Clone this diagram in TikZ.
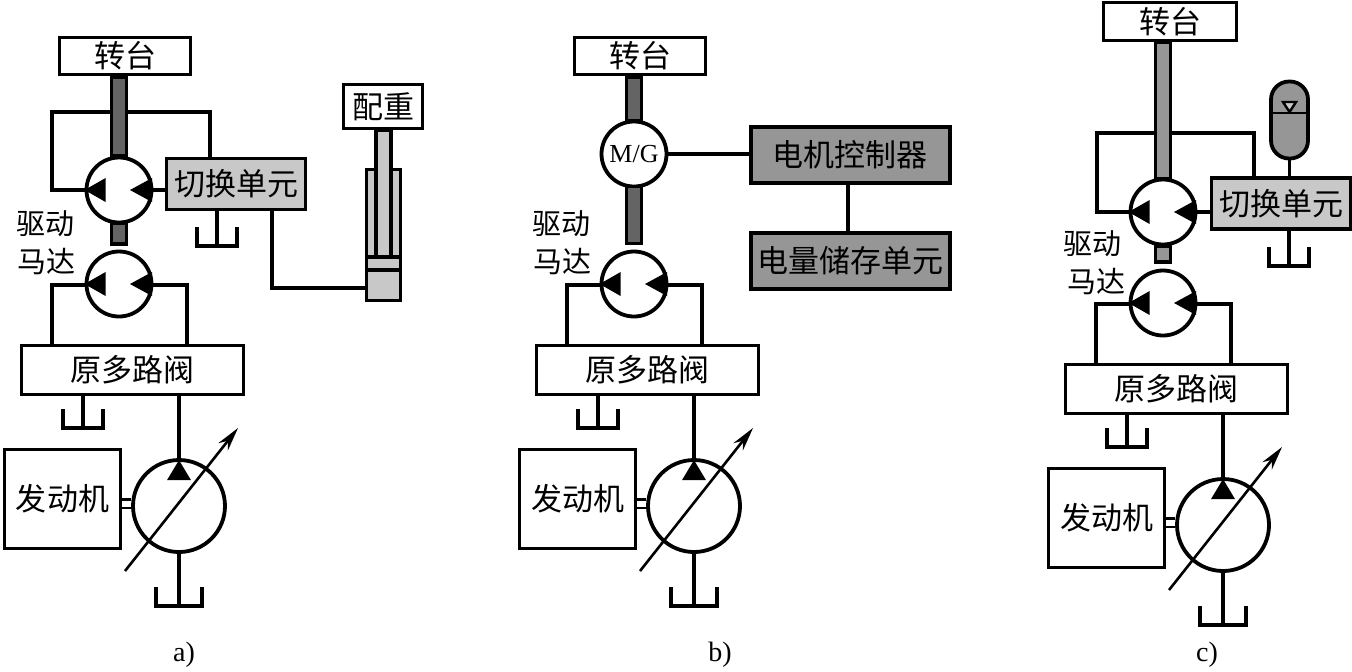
\documentclass[tikz,border=0pt]{standalone}
\usepackage{fontspec}
\setmainfont{Liberation Serif}
\newfontfamily\cjk{Noto Sans CJK SC}
\usetikzlibrary{arrows.meta}
\definecolor{shaft_dark}{RGB}{100,100,100}
\definecolor{box_gray}{RGB}{150,150,150}
\definecolor{unit_gray}{RGB}{200,200,200}

% the two filled tips inside a motor circle
\newcommand{\motortips}[1]{
    \fill (#1.west) -- ++(21,-12) -- ++(0,24) -- cycle;
    \fill (#1.center) ++(11,0) -- ++(22,-12) -- ++(0,24) -- cycle;
}
% open tank hanging from coordinate #1
\newcommand{\tanksym}[2]{
    \draw (#1) ++(-#2,-19) -- ++(0,19) -- ++(2*#2,0) -- ++(0,-19);
}
% motor, valve block, engine and pump: the same in all three circuits
\newcommand{\lowerdrive}[1]{
    \node[motor] (#1_mot) at (119,284) {};
    \motortips{#1_mot}
    \node[box, minimum width=111pt, minimum height=24.5pt] (#1_valve) at (132.5,370) {\cjk 原多路阀};
    \node[box, minimum width=58pt, minimum height=49.5pt] (#1_engine) at (62.5,499) {\cjk 发动机};
    \node[pump] (#1_pump) at (179,506) {};
    \coordinate (#1_t1) at (83,428);
    \coordinate (#1_t2) at (179,606);
    \coordinate (#1_ml) at (52,285);
    \coordinate (#1_mr) at (187,285);

    \draw (#1_mot.west |- #1_ml) -- (#1_ml) -- (#1_ml |- #1_valve.north);
    \draw (#1_mot.east |- #1_mr) -- (#1_mr) -- (#1_mr |- #1_valve.north);
    \draw (#1_t1 |- #1_valve.south) -- (#1_t1);
    \tanksym{#1_t1}{20}
    \draw[pipe] (#1_pump.north |- #1_valve.south) -- (#1_pump.north);
    \draw[pipe] (#1_pump.south) -- (#1_t2);
    \tanksym{#1_t2}{23}
    \fill (#1_pump.north) ++(0,2) -- ++(12,20) -- ++(-24,0) -- cycle;
    \draw[thin_line] (#1_engine.east |- 0,499.5) -- (#1_pump.west |- 0,499.5);
    \draw[thin_line] (#1_engine.east |- 0,508) -- (#1_pump.west |- 0,508);
    \draw[adjust] (#1_pump.center) ++(-54,65) -- ++(113,-143);
}

\begin{document}
\begin{tikzpicture}[x=0.5pt,y=-0.5pt,line width=1.6pt]
    \tikzstyle{box}=[draw, rectangle, inner sep=0pt, line width=1.8pt, fill=white, text=black, font=\fontsize{15.5}{15.5}\selectfont]
    \tikzstyle{unit}=[style=box, fill=unit_gray, minimum width=69.5pt, minimum height=25.5pt]
    \tikzstyle{ctrl}=[style=box, fill=box_gray, minimum width=99.5pt, minimum height=28pt, line width=2pt]
    \tikzstyle{motor}=[draw, circle, inner sep=0pt, line width=1.9pt, fill=white, minimum size=32.5pt]
    \tikzstyle{pump}=[draw, circle, inner sep=0pt, line width=1.9pt, fill=white, minimum size=46pt]
    \tikzstyle{shaft}=[draw, rectangle, inner sep=0pt, line width=1.8pt, minimum width=7.5pt, fill=shaft_dark]
    \tikzstyle{pipe}=[line width=2pt]
    \tikzstyle{thin_line}=[line width=1.2pt]
    \tikzstyle{adjust}=[line width=1.3pt, -{Stealth[length=12pt,width=6pt]}]
    \tikzstyle{tag}=[inner sep=0pt, font=\cjk\fontsize{14.5}{15}\selectfont]
    \tikzstyle{sublabel}=[inner sep=0pt, font=\fontsize{14}{14}\selectfont]

    \useasboundingbox (0,0) rectangle (1352,671);

    % circuit a)
    \lowerdrive{a}
    \node[box, minimum width=65.5pt, minimum height=18.5pt] (a_table) at (125,56) {\cjk 转台};
    \node[motor] (a_mot1) at (119,190) {};
    \motortips{a_mot1}
    \node[unit] (a_unit) at (236,184) {\cjk 切换单元};
    \node[box, minimum width=39.5pt, minimum height=22pt] (a_weight) at (383,106.5) {\cjk 配重};
    \node[draw, rectangle, line width=1.8pt, fill=unit_gray, minimum width=17pt, minimum height=65.5pt] (a_cyl) at (383.5,235) {};
    \node[shaft, fill=unit_gray, minimum width=7.5pt, minimum height=63.5pt] (a_rod) at (383.5,193.5) {};
    \node[tag] (a_l1) at (46,224) {驱动};
    \node[tag] (a_l2) at (47,262) {马达};
    \node[sublabel] (a_sub) at (184,655) {a)};
    \coordinate (a_lp) at (52,112);
    \coordinate (a_rp) at (210,112);
    \coordinate (a_t3) at (217,246);
    \coordinate (a_cp) at (272,288);

    \draw (a_mot1.west) -- (a_lp |- a_mot1.west) -- (a_lp) -- (a_rp) -- (a_rp |- a_unit.north);
    \draw (a_mot1.east) -- (a_unit.west |- a_mot1.east);
    \draw (a_t3 |- a_unit.south) -- (a_t3);
    \tanksym{a_t3}{20}
    \draw (a_cp |- a_unit.south) -- (a_cp) -- (a_cyl.west |- a_cp);
    \draw (a_cyl.west |- 0,257) -- (a_cyl.east |- 0,257);
    \draw (a_cyl.west |- 0,270) -- (a_cyl.east |- 0,270);
    \node[shaft, minimum height=39.5pt] (a_s1) at (119,116.5) {};
    \node[shaft, minimum height=10.5pt] (a_s2) at (119,233.5) {};

    % circuit b)
    \begin{scope}[shift={(515,0)}]
        \lowerdrive{b}
    \end{scope}
    \node[box, minimum width=65.5pt, minimum height=18.5pt] (b_table) at (640,56) {\cjk 转台};
    \node[motor, font=\fontsize{13}{13}\selectfont] (b_mg) at (634,154) {M/G};
    \node[ctrl] (b_ctrl) at (850,154.5) {\cjk 电机控制器};
    \node[ctrl] (b_store) at (850,260.5) {\cjk 电量储存单元};
    \node[shaft, minimum height=21.5pt] (b_s1) at (634,99) {};
    \node[shaft, minimum height=28.5pt] (b_s2) at (634,215) {};
    \node[tag] (b_l1) at (561,224) {驱动};
    \node[tag] (b_l2) at (562,262) {马达};
    \node[sublabel] (b_sub) at (720,655) {b)};

    \draw (b_mg.east) -- (b_ctrl.west |- b_mg.east);
    \draw (b_ctrl.south -| 848,0) -- (b_store.north -| 848,0);

    % circuit c)
    \begin{scope}[shift={(1044,19)}]
        \lowerdrive{c}
    \end{scope}
    \node[box, minimum width=66.5pt, minimum height=19pt] (c_table) at (1170,21.5) {\cjk 转台};
    \node[motor] (c_mot1) at (1163,212) {};
    \motortips{c_mot1}
    \node[unit] (c_unit) at (1281,203.5) {\cjk 切换单元};
    \node[draw, rounded corners=9pt, line width=1.9pt, fill=box_gray, inner sep=0pt, minimum width=18.5pt, minimum height=38.5pt] (c_acc) at (1289.5,120) {};
    \node[tag] (c_l1) at (1092,244) {驱动};
    \node[tag] (c_l2) at (1096,282) {马达};
    \node[sublabel] (c_sub) at (1207,655) {c)};
    \coordinate (c_lp) at (1097,133);
    \coordinate (c_rp) at (1254,133);
    \coordinate (c_t3) at (1289,266);

    \draw (c_mot1.west) -- (c_lp |- c_mot1.west) -- (c_lp) -- (c_rp) -- (c_rp |- c_unit.north);
    \draw (c_mot1.east) -- (c_unit.west |- c_mot1.east);
    \draw (c_t3 |- c_unit.south) -- (c_t3);
    \tanksym{c_t3}{20}
    \draw (c_acc.south) -- (c_acc.south |- c_unit.north);
    \draw[thin_line] (c_acc.west |- 0,113) -- (c_acc.east |- 0,113);
    \draw[thin_line, fill=unit_gray] (1283,102) -- (1296,102) -- (1289.5,112) -- cycle;
    \node[shaft, fill=box_gray, minimum height=68pt] (c_s1) at (1163,110.5) {};
    \node[shaft, fill=box_gray, minimum height=8pt] (c_s2) at (1163,254) {};
\end{tikzpicture}
\end{document}
